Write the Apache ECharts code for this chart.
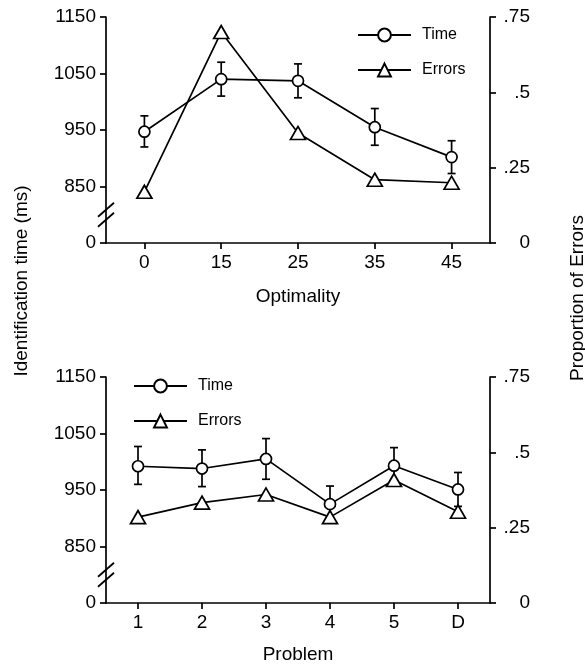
<!DOCTYPE html>
<html>
<head>
<meta charset="utf-8">
<script src="https://cdn.jsdelivr.net/npm/echarts@6/dist/echarts.min.js"></script>
<style>
  html, body { margin: 0; padding: 0; background: #fff; }
  #chart { width: 585px; height: 666px; }
</style>
</head>
<body>
<div id="chart"></div>
<script>
// top panel: optimality
const optimalityLevels = ['0', '15', '25', '35', '45'];
const optimalityTime = [947, 1040, 1037, 955, 902];
const optimalityTimeLow = [920, 1010, 1007, 923, 873];
const optimalityTimeHigh = [975, 1070, 1067, 988, 931];
const optimalityErrors = [0.17, 0.70, 0.365, 0.21, 0.20];

// bottom panel: problem
const problemLevels = ['1', '2', '3', '4', '5', 'D'];
const problemTime = [992, 988, 1005, 925, 993, 951];
const problemTimeLow = [960, 956, 969, 893, 961, 921];
const problemTimeHigh = [1027, 1021, 1041, 957, 1025, 981];
const problemErrors = [0.285, 0.333, 0.36, 0.285, 0.408, 0.303];

// axis scales (the bottom of the time axis is a broken "0")
const TIME_MIN = 750;
const TIME_MAX = 1150;
const TIME_STEP = 100;
const TIME_BREAK = 800;
const ERR_MAX = 0.75;
const ERR_STEP = 0.25;

const FONT = '"Liberation Sans", Arial, sans-serif';
const BLACK = '#000';
const STROKE = 1.7;

const chart = echarts.init(document.getElementById('chart'));

const panels = [
  { name: 'Optimality', categories: optimalityLevels, time: optimalityTime, low: optimalityTimeLow, high: optimalityTimeHigh, errors: optimalityErrors, top: 17, nameGap: 44, legendLeft: 352, legendTop: 22 },
  { name: 'Problem', categories: problemLevels, time: problemTime, low: problemTimeLow, high: problemTimeHigh, errors: problemErrors, top: 377, nameGap: 42, legendLeft: 128, legendTop: 373 },
];

function formatTime(value) {
  return value === TIME_MIN ? '0' : String(value);
}

function formatProportion(value) {
  if (value === 0) return '0';
  return String(+value.toFixed(2)).replace(/^0/, '');
}

function renderErrorBar(params, api) {
  const x = api.value(0);
  const low = api.coord([x, api.value(1)]);
  const high = api.coord([x, api.value(2)]);
  const cap = 4;
  const style = { stroke: BLACK, lineWidth: STROKE };
  return {
    type: 'group',
    children: [
      { type: 'line', shape: { x1: low[0], y1: low[1], x2: high[0], y2: high[1] }, style },
      { type: 'line', shape: { x1: low[0] - cap, y1: low[1], x2: low[0] + cap, y2: low[1] }, style },
      { type: 'line', shape: { x1: high[0] - cap, y1: high[1], x2: high[0] + cap, y2: high[1] }, style },
    ],
  };
}

function renderBreak(params, api) {
  const y = api.coord([0, api.value(1)])[1];
  const x = params.coordSys.x;
  const style = { stroke: BLACK, lineWidth: STROKE };
  return {
    type: 'group',
    children: [-5, 5].map((dy) => ({
      type: 'line',
      shape: { x1: x - 8, y1: y + dy + 7, x2: x + 8, y2: y + dy - 7 },
      style,
    })),
  };
}

const axisLine = { show: true, lineStyle: { color: BLACK, width: STROKE } };
const axisTick = { show: true, inside: false, length: 6, lineStyle: { color: BLACK, width: STROKE } };
const labelStyle = { color: BLACK, fontFamily: FONT, fontSize: 19 };

chart.setOption({
  animation: false,
  backgroundColor: '#fff',
  textStyle: { fontFamily: FONT },
  legend: panels.map((panel) => ({
    left: panel.legendLeft,
    top: panel.legendTop,
    orient: 'vertical',
    itemWidth: 53,
    itemHeight: 16,
    itemGap: 19,
    selectedMode: false,
    textStyle: { color: BLACK, fontFamily: FONT, fontSize: 16, padding: [0, 0, 0, 6] },
    data: ['Time', 'Errors'],
  })),
  grid: panels.map((panel) => ({
    left: 106,
    right: 95,
    top: panel.top,
    height: 226,
    containLabel: false,
  })),
  xAxis: panels.map((panel, index) => ({
    type: 'category',
    gridIndex: index,
    data: panel.categories,
    boundaryGap: true,
    name: panel.name,
    nameLocation: 'middle',
    nameGap: panel.nameGap,
    nameTextStyle: labelStyle,
    axisLine,
    axisTick: { ...axisTick, alignWithLabel: true },
    axisLabel: { ...labelStyle, margin: 10 },
    splitLine: { show: false },
  })),
  yAxis: panels.flatMap((panel, index) => ([
    {
      type: 'value',
      gridIndex: index,
      min: TIME_MIN,
      max: TIME_MAX,
      interval: TIME_STEP,
      axisLine,
      axisTick,
      axisLabel: { ...labelStyle, margin: 10, formatter: formatTime },
      splitLine: { show: false },
    },
    {
      type: 'value',
      gridIndex: index,
      position: 'right',
      min: 0,
      max: ERR_MAX,
      interval: ERR_STEP,
      axisLine,
      axisTick,
      axisLabel: { ...labelStyle, margin: 40, align: 'right', formatter: formatProportion },
      splitLine: { show: false },
    },
  ])),
  series: panels.flatMap((panel, index) => ([
    {
      type: 'custom',
      xAxisIndex: index,
      yAxisIndex: index * 2,
      renderItem: renderErrorBar,
      data: panel.time.map((_, i) => [i, panel.low[i], panel.high[i]]),
      z: 1,
      silent: true,
    },
    {
      type: 'custom',
      xAxisIndex: index,
      yAxisIndex: index * 2,
      renderItem: renderBreak,
      data: [[0, TIME_BREAK]],
      z: 5,
      silent: true,
    },
    {
      name: 'Time',
      type: 'line',
      xAxisIndex: index,
      yAxisIndex: index * 2,
      data: panel.time,
      symbol: 'circle',
      symbolSize: 11,
      showAllSymbol: true,
      lineStyle: { color: BLACK, width: STROKE },
      itemStyle: { color: '#fff', borderColor: BLACK, borderWidth: STROKE },
      z: 3,
    },
    {
      name: 'Errors',
      type: 'line',
      xAxisIndex: index,
      yAxisIndex: index * 2 + 1,
      data: panel.errors,
      symbol: 'triangle',
      symbolSize: [15, 13],
      showAllSymbol: true,
      lineStyle: { color: BLACK, width: STROKE },
      itemStyle: { color: '#fff', borderColor: BLACK, borderWidth: STROKE },
      z: 4,
    },
  ])),
  graphic: [
    {
      type: 'text',
      x: 22,
      y: 281,
      rotation: Math.PI / 2,
      style: { text: 'Identification time (ms)', fill: BLACK, font: `19px ${FONT}`, align: 'center', verticalAlign: 'middle' },
    },
    {
      type: 'text',
      x: 578,
      y: 298,
      rotation: Math.PI / 2,
      style: { text: 'Proportion of Errors', fill: BLACK, font: `19px ${FONT}`, align: 'center', verticalAlign: 'middle' },
    },
  ],
});
</script>
</body>
</html>
